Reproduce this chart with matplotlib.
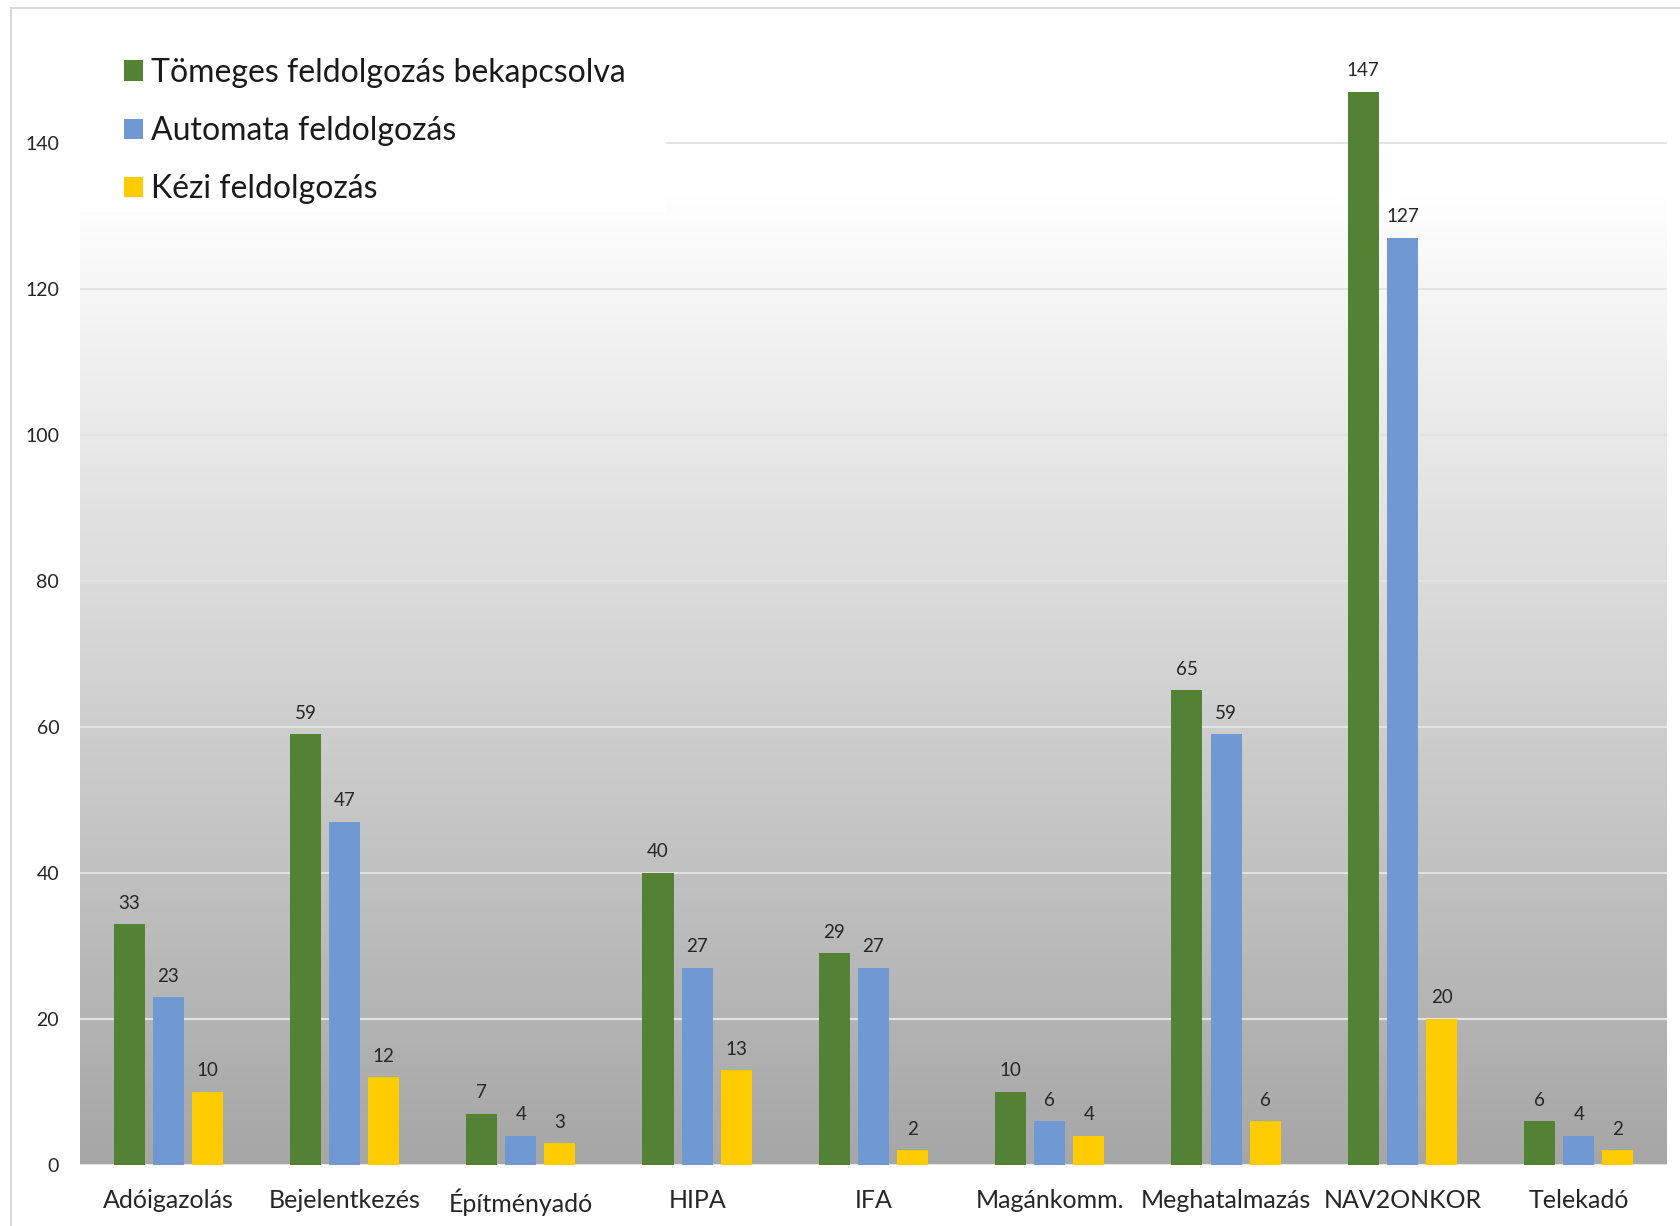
import numpy as np
import matplotlib.pyplot as plt
from matplotlib.patches import Rectangle
from matplotlib.colors import LinearSegmentedColormap

# adatok
categories = ['Adóigazolás', 'Bejelentkezés', 'Építményadó', 'HIPA', 'IFA',
              'Magánkomm.', 'Meghatalmazás', 'NAV2ONKOR', 'Telekadó']
tomeges = [33, 59, 7, 40, 29, 10, 65, 147, 6]
automata = [23, 47, 4, 27, 27, 6, 59, 127, 4]
kezi = [10, 12, 3, 13, 2, 4, 6, 20, 2]
series_names = ['Tömeges feldolgozás bekapcsolva', 'Automata feldolgozás', 'Kézi feldolgozás']
series_colors = ['#548235', '#7098d3', '#ffcc00']
y_ticks = [0, 20, 40, 60, 80, 100, 120, 140]

plt.rcParams['font.family'] = ['Lato', 'DejaVu Sans']

fig = plt.figure(figsize=(16.81, 12.26), dpi=100)
ax = fig.add_axes([0.0476, 0.0498, 0.944, 0.933])

# keret a grafikon körül
fig.patches.append(Rectangle((0.0065, -0.01), 1.0, 1.0035, transform=fig.transFigure,
                             fill=False, edgecolor='#d9d9d9', lw=1.5, zorder=0))

x = np.arange(len(categories))
width = 0.176
step = 0.222

# szürke színátmenet háttér
ymax = 156.7
grad = np.linspace(1.0, 0.0, 256).reshape(-1, 1)
cmap = LinearSegmentedColormap.from_list('g', [(0, '#a6a6a6'), (0.85, '#ffffff'), (1, '#ffffff')])
ax.imshow(grad, extent=(-0.5, len(categories) - 0.5, 0, ymax), aspect='auto',
          cmap=cmap, vmin=0, vmax=1, zorder=0, origin='upper')

for yt in y_ticks:
    ax.axhline(yt, color='#e3e3e3', lw=1.5, zorder=1)

for i, (vals, name, col) in enumerate(zip([tomeges, automata, kezi], series_names, series_colors)):
    bars = ax.bar(x + (i - 1) * step, vals, width, color=col, label=name, zorder=3)
    ax.bar_label(bars, padding=9, fontsize=13.5, color='#262626')

ax.set_xlim(-0.5, len(categories) - 0.5)
ax.set_ylim(0, ymax)
ax.set_xticks(x)
ax.set_xticklabels(categories, fontsize=18, color='#262626')
ax.set_yticks(y_ticks)
ax.tick_params(axis='y', labelsize=14, colors='#262626', length=0, pad=15)
ax.tick_params(axis='x', length=0, pad=17)
for s in ax.spines.values():
    s.set_visible(False)

# fehér doboz a jelmagyarázat mögött
ax.add_patch(Rectangle((0, 0.833), 0.369, 0.2, transform=ax.transAxes,
                       facecolor='white', edgecolor='none', zorder=4))
leg = ax.legend(loc='upper left', bbox_to_anchor=(0.0195, 0.979), frameon=False,
                fontsize=23, handlelength=0.6, handleheight=0.6, handletextpad=0.25,
                labelspacing=0.88, borderaxespad=0)
leg.set_zorder(5)
for t in leg.get_texts():
    t.set_color('#1a1a1a')

plt.savefig('out.png', dpi=100)
